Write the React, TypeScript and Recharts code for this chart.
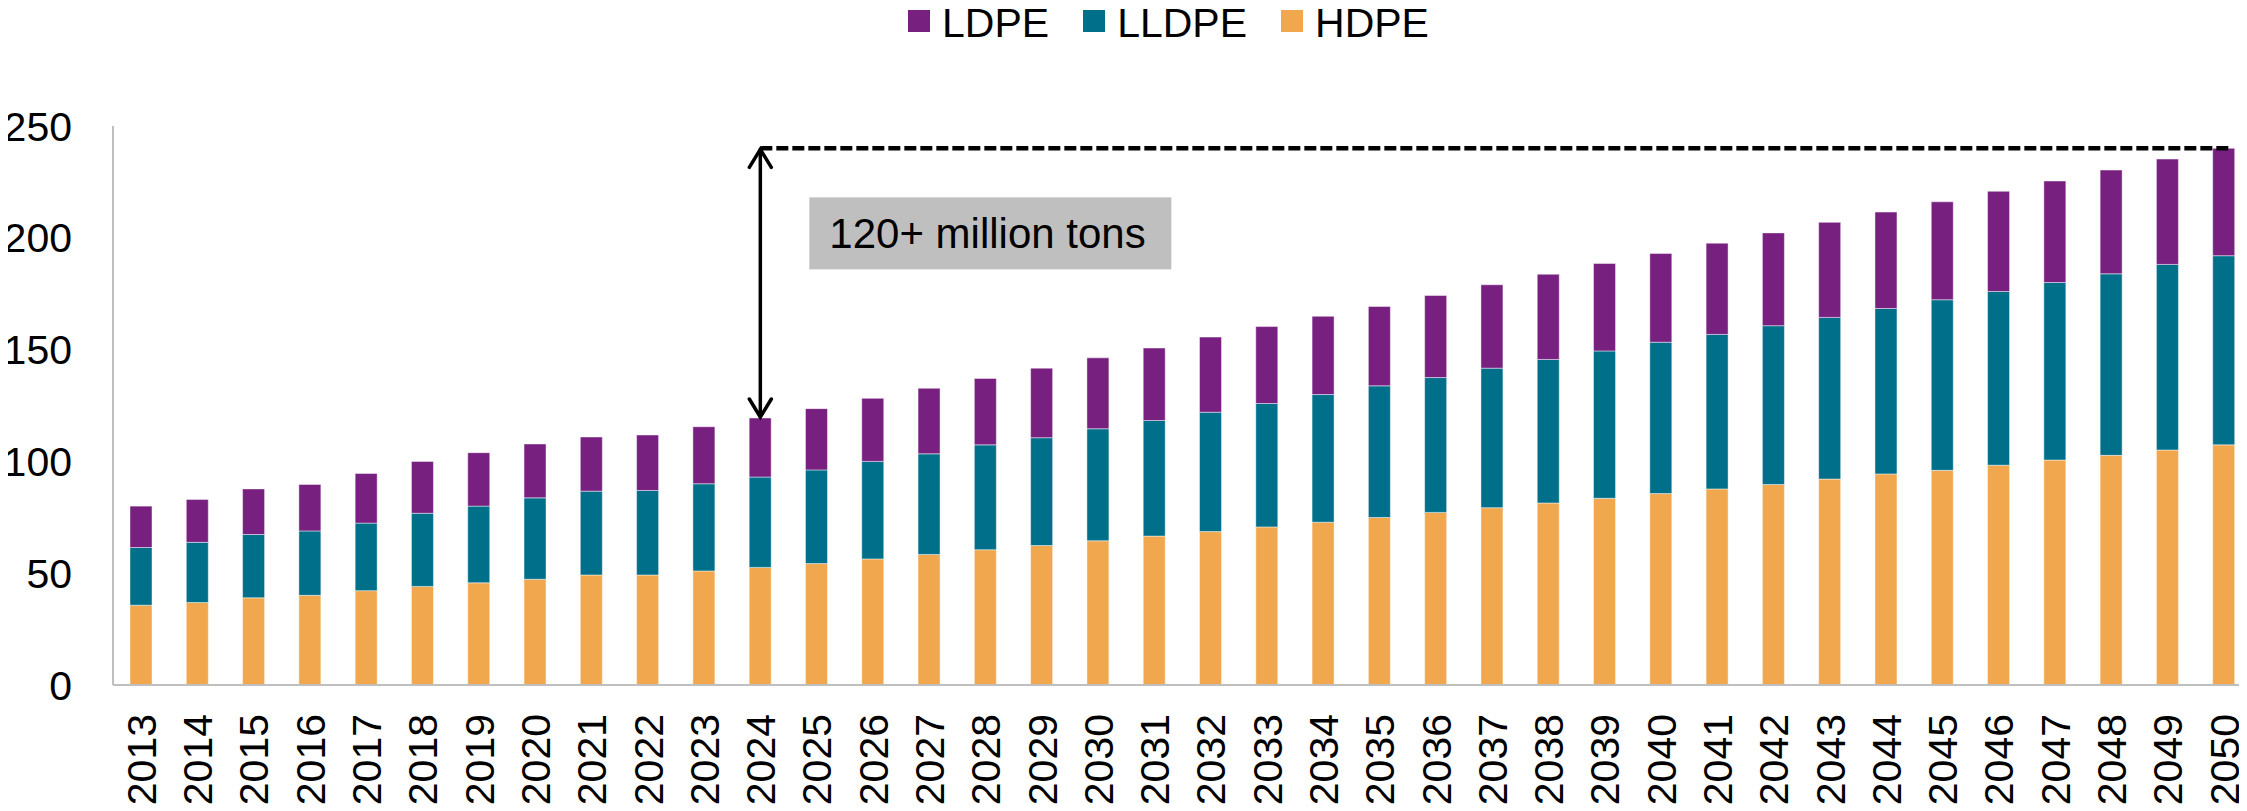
import { BarChart, Bar, XAxis, YAxis, Legend, ReferenceLine } from "recharts";

const years = [
  "2013", "2014", "2015", "2016", "2017", "2018", "2019", "2020", "2021", "2022",
  "2023", "2024", "2025", "2026", "2027", "2028", "2029", "2030", "2031", "2032",
  "2033", "2034", "2035", "2036", "2037", "2038", "2039", "2040", "2041", "2042",
  "2043", "2044", "2045", "2046", "2047", "2048", "2049", "2050",
];

const hdpe = [
  35.7, 36.9, 39.0, 40.1, 42.2, 44.1, 45.7, 47.3, 49.2, 49.2,
  51.0, 52.6, 54.3, 56.4, 58.4, 60.5, 62.4, 64.5, 66.6, 68.6,
  70.7, 72.8, 74.9, 77.2, 79.3, 81.4, 83.5, 85.6, 87.7, 89.7,
  92.1, 94.4, 96.0, 98.3, 100.6, 102.7, 105.1, 107.4,
];

const lldpe = [
  25.8, 26.9, 28.3, 28.8, 30.2, 32.7, 34.3, 36.4, 37.5, 37.8,
  39.0, 40.4, 41.9, 43.6, 45.0, 46.9, 48.2, 50.1, 51.7, 53.4,
  55.2, 57.1, 58.9, 60.3, 62.4, 64.2, 65.9, 67.7, 69.1, 71.0,
  72.3, 74.0, 76.3, 77.7, 79.4, 81.2, 83.0, 84.6,
];

const ldpe = [
  18.5, 19.2, 20.4, 20.8, 22.2, 23.2, 23.9, 24.1, 24.2, 24.8,
  25.5, 26.4, 27.4, 28.2, 29.3, 29.7, 31.1, 31.7, 32.4, 33.6,
  34.4, 35.0, 35.5, 36.7, 37.3, 38.1, 39.1, 39.7, 40.8, 41.5,
  42.5, 43.1, 43.8, 44.8, 45.4, 46.4, 47.1, 48.0,
];

const yTicks = [0, 50, 100, 150, 200, 250];

// legend order (top of stack first)
const series = [
  { key: "LDPE", color: "#782080" },
  { key: "LLDPE", color: "#006F8A" },
  { key: "HDPE", color: "#F0A74D" },
];

const data = years.map((year, i) => ({
  year,
  HDPE: hdpe[i],
  LLDPE: lldpe[i],
  LDPE: ldpe[i],
}));

const startYear = "2024";
const endYear = "2050";
const startIdx = years.indexOf(startYear);
const endIdx = years.indexOf(endYear);
const startTotal = hdpe[startIdx] + lldpe[startIdx] + ldpe[startIdx];
const endTotal = hdpe[endIdx] + lldpe[endIdx] + ldpe[endIdx];

const FONT = "'Liberation Sans', Arial, sans-serif";

const XTick = (props: any) => {
  const { x, y, payload } = props;
  return (
    <g transform={`translate(${x},${y})`}>
      <text
        transform="rotate(-90)"
        x={0}
        y={0}
        dy="0.36em"
        textAnchor="end"
        fontSize={41}
        fill="#000"
        fontFamily={FONT}
      >
        {payload.value}
      </text>
    </g>
  );
};

const ArrowShape = (props: any) => {
  const { x1, y1, y2 } = props;
  const top = Math.min(y1, y2);
  const bot = Math.max(y1, y2);
  const h = 19;
  const w = 11;
  return (
    <g stroke="#000" strokeWidth={3.5} fill="none" strokeLinecap="round">
      <line x1={x1} y1={top + 1} x2={x1} y2={bot - 1} />
      <polyline points={`${x1 - w},${top + h} ${x1},${top + 1} ${x1 + w},${top + h}`} />
      <polyline points={`${x1 - w},${bot - h} ${x1},${bot - 1} ${x1 + w},${bot - h}`} />
    </g>
  );
};

const DashShape = (props: any) => {
  const { x1, y1, x2 } = props;
  return (
    <g>
      <line
        x1={x1}
        y1={y1}
        x2={x2 + 8}
        y2={y1}
        stroke="#000"
        strokeWidth={4.5}
        strokeDasharray="12 4"
      />
      <rect x={x1 + 49} y={y1 + 49} width={362} height={72} fill="#BFBFBF" />
      <text
        x={x1 + 69}
        y={y1 + 100}
        fontSize={42}
        fill="#000"
        fontFamily={FONT}
      >
        120+ million tons
      </text>
    </g>
  );
};

const LegendContent = () => (
  <div
    style={{
      display: "flex",
      justifyContent: "center",
      alignItems: "center",
      height: 47,
      paddingLeft: 90,
      boxSizing: "border-box",
      fontFamily: FONT,
      fontSize: 41,
      color: "#000",
    }}
  >
    {series.map((s, i) => (
      <div
        key={s.key}
        style={{
          display: "flex",
          alignItems: "center",
          marginRight: i < series.length - 1 ? 34 : 0,
        }}
      >
        <div
          style={{
            width: 22,
            height: 22,
            background: s.color,
            marginRight: 12,
            marginBottom: 5,
          }}
        />
        <span style={{ lineHeight: "47px" }}>{s.key}</span>
      </div>
    ))}
  </div>
);

export default function App() {
  return (
    <div
      style={{
        fontFamily: FONT,
        width: 2247,
        marginLeft: -8,
        marginTop: -8,
        paddingTop: 8,
        overflow: "hidden",
      }}
    >
      <BarChart
        width={2252}
        height={800}
        data={data}
        margin={{ top: 71, right: 0, left: 0, bottom: 0 }}
        barSize={22}
      >
        <Legend
          verticalAlign="top"
          align="center"
          content={<LegendContent />}
          wrapperStyle={{ top: -8, left: 0, width: 2247 }}
        />
        <XAxis
          dataKey="year"
          interval={0}
          height={123}
          tickLine={false}
          tickSize={6}
          tickMargin={23}
          axisLine={{ stroke: "#BFBFBF", strokeWidth: 2 }}
          tick={<XTick />}
        />
        <YAxis
          width={113}
          domain={[0, 250]}
          ticks={yTicks}
          interval={0}
          tickLine={false}
          tickSize={6}
          tickMargin={35}
          axisLine={{ stroke: "#BFBFBF", strokeWidth: 2 }}
          tick={{ fontSize: 41, fill: "#000", fontFamily: FONT }}
        />
        <Bar dataKey="HDPE" stackId="a" fill="#F0A74D" stroke="#ffffff" strokeOpacity={0.45} strokeWidth={1} isAnimationActive={false} />
        <Bar dataKey="LLDPE" stackId="a" fill="#006F8A" stroke="#ffffff" strokeOpacity={0.45} strokeWidth={1} isAnimationActive={false} />
        <Bar dataKey="LDPE" stackId="a" fill="#782080" stroke="#ffffff" strokeOpacity={0.45} strokeWidth={1} isAnimationActive={false} />
        <ReferenceLine
          segment={[
            { x: startYear, y: endTotal },
            { x: endYear, y: endTotal },
          ]}
          shape={<DashShape />}
        />
        <ReferenceLine
          segment={[
            { x: startYear, y: startTotal },
            { x: startYear, y: endTotal },
          ]}
          shape={<ArrowShape />}
        />
      </BarChart>
    </div>
  );
}
